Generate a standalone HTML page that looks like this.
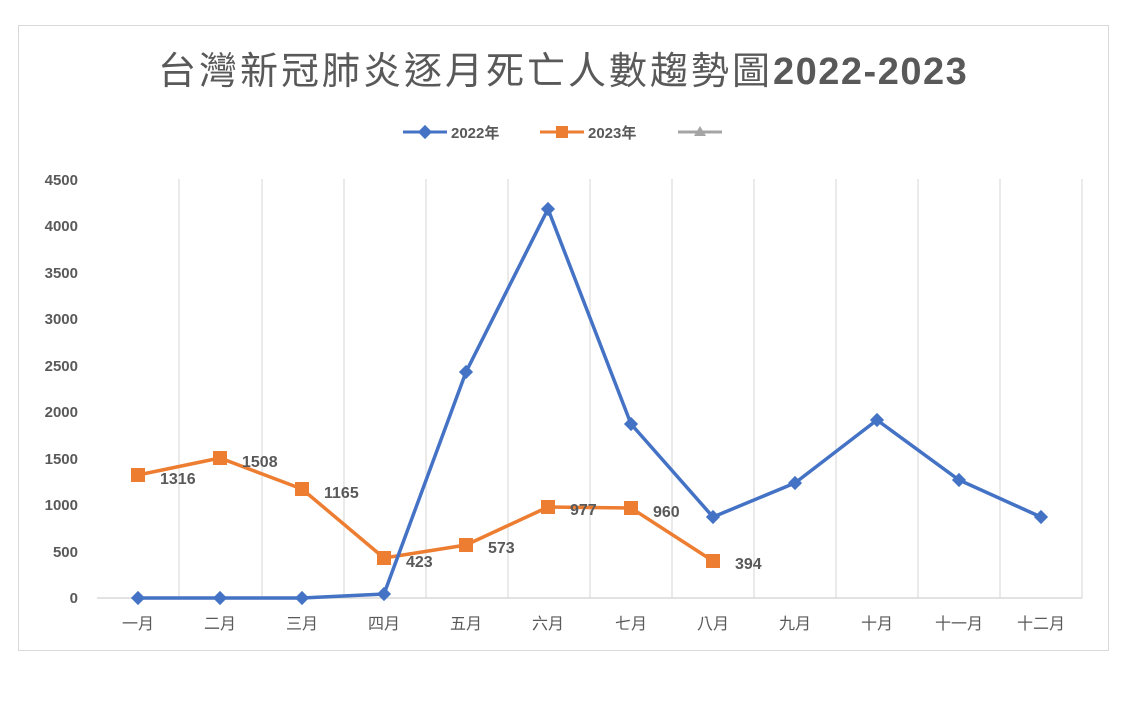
<!DOCTYPE html>
<html><head><meta charset="utf-8"><style>
body{margin:0;background:#fff;width:1138px;height:720px;overflow:hidden}
</style></head><body>
<svg width="1138" height="720" xmlns="http://www.w3.org/2000/svg" font-family="'Liberation Sans','Noto Sans CJK TC',sans-serif">
<rect x="18.5" y="25.5" width="1090" height="625" fill="#fff" stroke="#d9d9d9"/>
<text x="158" y="84" font-size="38" fill="#595959" letter-spacing="3" font-family="'Liberation Sans','Noto Sans CJK TC',sans-serif">台灣新冠肺炎逐月死亡人數趨勢圖<tspan font-weight="bold" letter-spacing="1.5">2022-2023</tspan></text>
<g font-size="15" fill="#595959" font-weight="bold">
<line x1="403" y1="132" x2="447" y2="132" stroke="#4472c4" stroke-width="3"/>
<rect x="420" y="127" width="10" height="10" fill="#4472c4" transform="rotate(45 425 132)"/>
<text x="451" y="138">2022年</text>
<line x1="540" y1="132" x2="584" y2="132" stroke="#ed7d31" stroke-width="3"/>
<rect x="556" y="126" width="12" height="12" fill="#ed7d31"/>
<text x="588" y="138">2023年</text>
<line x1="678" y1="132" x2="722" y2="132" stroke="#a5a5a5" stroke-width="3"/>
<polygon points="700,126 706,136 694,136" fill="#a5a5a5"/>
</g>
<g stroke="#e3e3e3" stroke-width="1.5">
<line x1="179" y1="179" x2="179" y2="598"/><line x1="262" y1="179" x2="262" y2="598"/><line x1="344" y1="179" x2="344" y2="598"/><line x1="426" y1="179" x2="426" y2="598"/><line x1="508" y1="179" x2="508" y2="598"/><line x1="590" y1="179" x2="590" y2="598"/><line x1="672" y1="179" x2="672" y2="598"/><line x1="754" y1="179" x2="754" y2="598"/><line x1="836" y1="179" x2="836" y2="598"/><line x1="918" y1="179" x2="918" y2="598"/><line x1="1000" y1="179" x2="1000" y2="598"/><line x1="1082" y1="179" x2="1082" y2="598"/>
<line x1="97" y1="598" x2="1082" y2="598" stroke="#d9d9d9"/>
</g>
<g font-size="15" font-weight="bold" fill="#595959" text-anchor="end">
<text x="78" y="603">0</text><text x="78" y="557">500</text><text x="78" y="510">1000</text><text x="78" y="464">1500</text><text x="78" y="417">2000</text><text x="78" y="371">2500</text><text x="78" y="324">3000</text><text x="78" y="278">3500</text><text x="78" y="231">4000</text><text x="78" y="185">4500</text>
</g>
<g font-size="16" fill="#595959" text-anchor="middle">
<text x="138" y="629">一月</text><text x="220" y="629">二月</text><text x="302" y="629">三月</text><text x="384" y="629">四月</text><text x="466" y="629">五月</text><text x="548" y="629">六月</text><text x="631" y="629">七月</text><text x="713" y="629">八月</text><text x="795" y="629">九月</text><text x="877" y="629">十月</text><text x="959" y="629">十一月</text><text x="1041" y="629">十二月</text>
</g>
<polyline fill="none" stroke="#ed7d31" stroke-width="3.5" points="138,475 220,458 302,489 384,558 466,545 548,507 631,508 713,561"/>
<g fill="#ed7d31">
<rect x="131" y="468" width="14" height="14"/><rect x="213" y="451" width="14" height="14"/><rect x="295" y="482" width="14" height="14"/><rect x="377" y="551" width="14" height="14"/><rect x="459" y="538" width="14" height="14"/><rect x="541" y="500" width="14" height="14"/><rect x="624" y="501" width="14" height="14"/><rect x="706" y="554" width="14" height="14"/>
</g>
<polyline fill="none" stroke="#4472c4" stroke-width="3.5" points="138,598 220,598 302,598 384,594 466,372 548,209 631,424 713,517 795,483 877,420 959,480 1041,517"/>
<g fill="#4472c4">
<rect x="133" y="593" width="10" height="10" transform="rotate(45 138 598)"/><rect x="215" y="593" width="10" height="10" transform="rotate(45 220 598)"/><rect x="297" y="593" width="10" height="10" transform="rotate(45 302 598)"/><rect x="379" y="589" width="10" height="10" transform="rotate(45 384 594)"/><rect x="461" y="367" width="10" height="10" transform="rotate(45 466 372)"/><rect x="543" y="204" width="10" height="10" transform="rotate(45 548 209)"/><rect x="626" y="419" width="10" height="10" transform="rotate(45 631 424)"/><rect x="708" y="512" width="10" height="10" transform="rotate(45 713 517)"/><rect x="790" y="478" width="10" height="10" transform="rotate(45 795 483)"/><rect x="872" y="415" width="10" height="10" transform="rotate(45 877 420)"/><rect x="954" y="475" width="10" height="10" transform="rotate(45 959 480)"/><rect x="1036" y="512" width="10" height="10" transform="rotate(45 1041 517)"/>
</g>
<g font-size="16" font-weight="bold" fill="#595959">
<text x="160" y="484">1316</text><text x="242" y="467">1508</text><text x="324" y="498">1165</text><text x="406" y="567">423</text><text x="488" y="553">573</text><text x="570" y="515">977</text><text x="653" y="517">960</text><text x="735" y="569">394</text>
</g>
</svg>
</body></html>
